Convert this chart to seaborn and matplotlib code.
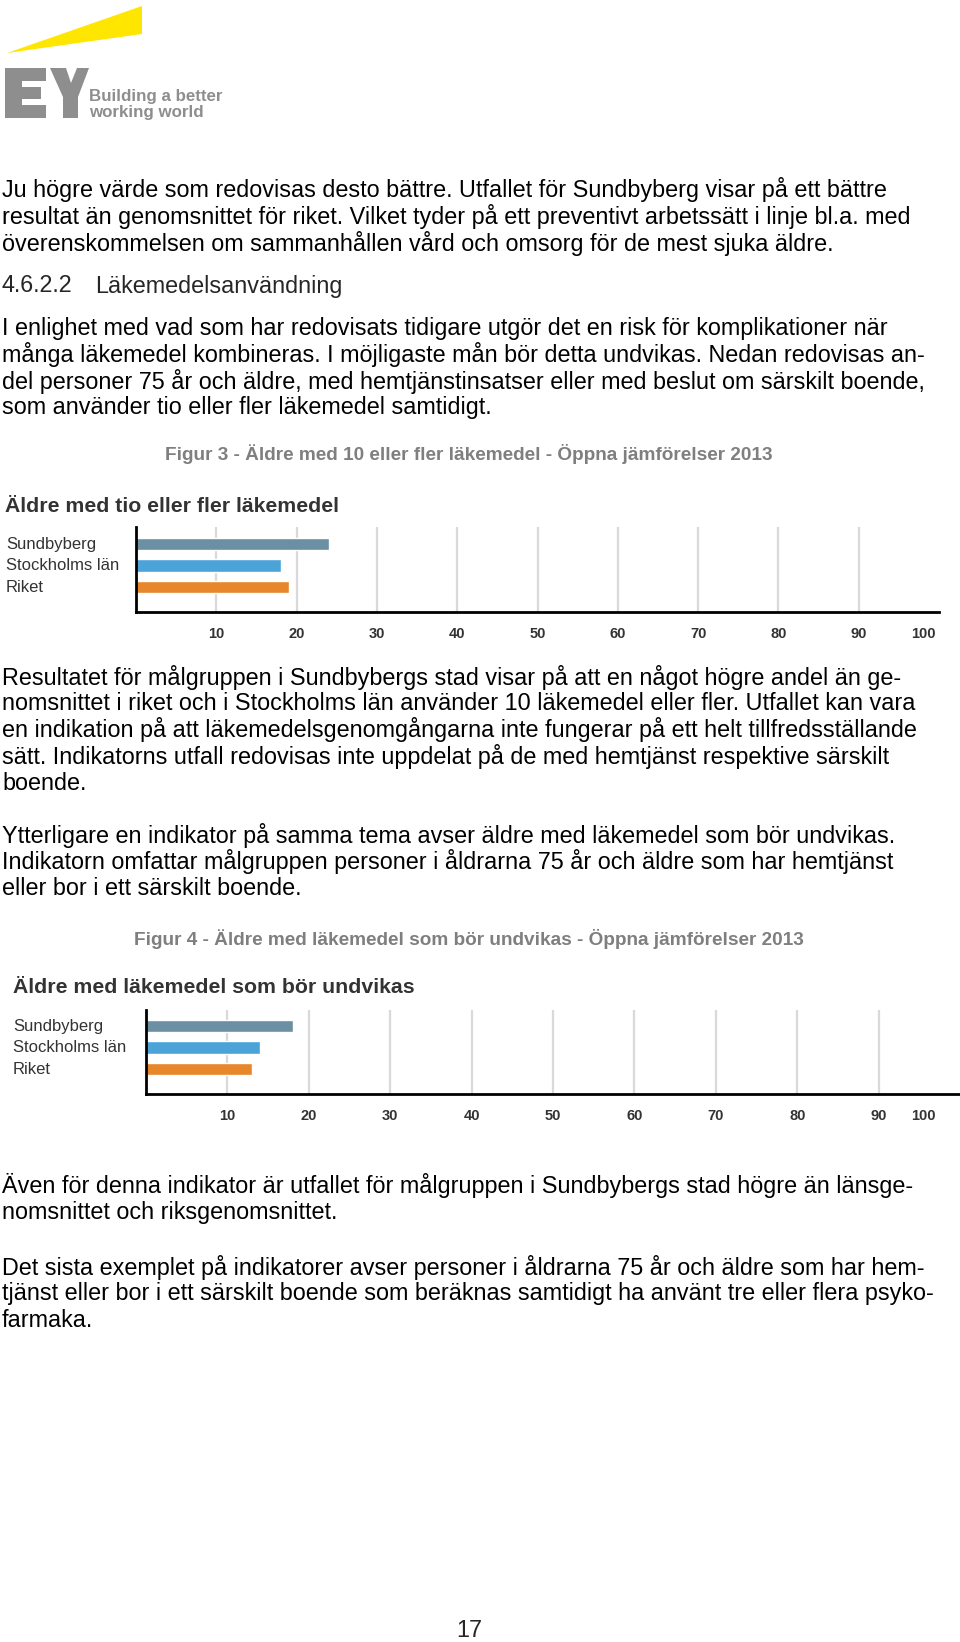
import matplotlib
matplotlib.use("Agg")
import matplotlib.pyplot as plt
import matplotlib.transforms as mtransforms
from matplotlib.patches import Polygon
import pandas as pd
import seaborn as sns

W, H = 960, 1642

REGIONS = ["Sundbyberg", "Stockholms län", "Riket"]
TIO_FLER = [24, 18, 19]          # Äldre med tio eller fler läkemedel (%)
BOR_UNDVIKAS = [18, 14, 13]      # Äldre med läkemedel som bör undvikas (%)
BAR_COLORS = ["#6b8fa3", "#4ba3d8", "#e8862b"]
X_TICKS = [10, 20, 30, 40, 50, 60, 70, 80, 90, 100]

PARA_1 = ["Ju högre värde som redovisas desto bättre. Utfallet för Sundbyberg visar på ett bättre",
          "resultat än genomsnittet för riket. Vilket tyder på ett preventivt arbetssätt i linje bl.a. med",
          "överenskommelsen om sammanhållen vård och omsorg för de mest sjuka äldre."]
PARA_2 = ["I enlighet med vad som har redovisats tidigare utgör det en risk för komplikationer när",
          "många läkemedel kombineras. I möjligaste mån bör detta undvikas. Nedan redovisas an-",
          "del personer 75 år och äldre, med hemtjänstinsatser eller med beslut om särskilt boende,",
          "som använder tio eller fler läkemedel samtidigt."]
PARA_3 = ["Resultatet för målgruppen i Sundbybergs stad visar på att en något högre andel än ge-",
          "nomsnittet i riket och i Stockholms län använder 10 läkemedel eller fler. Utfallet kan vara",
          "en indikation på att läkemedelsgenomgångarna inte fungerar på ett helt tillfredsställande",
          "sätt. Indikatorns utfall redovisas inte uppdelat på de med hemtjänst respektive särskilt",
          "boende."]
PARA_4 = ["Ytterligare en indikator på samma tema avser äldre med läkemedel som bör undvikas.",
          "Indikatorn omfattar målgruppen personer i åldrarna 75 år och äldre som har hemtjänst",
          "eller bor i ett särskilt boende."]
PARA_5 = ["Även för denna indikator är utfallet för målgruppen i Sundbybergs stad högre än länsge-",
          "nomsnittet och riksgenomsnittet."]
PARA_6 = ["Det sista exemplet på indikatorer avser personer i åldrarna 75 år och äldre som har hem-",
          "tjänst eller bor i ett särskilt boende som beräknas samtidigt ha använt tre eller flera psyko-",
          "farmaka."]

BODY = ["Liberation Sans", "DejaVu Sans"]
BODY_SIZE = 16.8
LOGO_GRAY = "#8e8e8e"

sns.set_theme(style="white")
plt.rcParams["font.family"] = BODY

fig = plt.figure(figsize=(W / 100, H / 100), dpi=100)
fig.patch.set_facecolor("white")


def fx(x):
    return x / W


def fy(y):
    return 1 - y / H


def shape(points, color):
    fig.patches.append(Polygon([(fx(x), fy(y)) for x, y in points], closed=True,
                               transform=fig.transFigure, facecolor=color,
                               edgecolor="none"))


def para(lines, y0, step=26.5):
    for i, s in enumerate(lines):
        fig.text(fx(2), fy(y0 + i * step), s, fontsize=BODY_SIZE, color="black",
                 va="center", ha="left")


# logo
shape([(7, 53), (142, 6), (142, 34)], "#ffe600")
shape([(5, 68), (46, 68), (46, 81), (22, 81), (22, 87), (41, 87), (41, 99),
       (22, 99), (22, 105), (46, 105), (46, 118), (5, 118)], LOGO_GRAY)
shape([(50, 68), (66, 68), (71, 83), (77, 68), (89, 68), (78, 97), (78, 118),
       (63, 118), (63, 97)], LOGO_GRAY)
fig.text(fx(89), fy(96), "Building a better", fontsize=12.2, fontweight="bold",
         color=LOGO_GRAY, va="center", ha="left")
fig.text(fx(89), fy(113), "working world", fontsize=12.2, fontweight="bold",
         color=LOGO_GRAY, va="center", ha="left")

para(PARA_1, 190)
fig.text(fx(2), fy(286), "4.6.2.2", fontsize=BODY_SIZE, va="center", ha="left")
fig.text(fx(95), fy(286), "Läkemedelsanvändning", fontsize=BODY_SIZE, va="center", ha="left")
para(PARA_2, 328)
para(PARA_3, 677)
para(PARA_4, 835)
para(PARA_5, 1186)
para(PARA_6, 1267)

fig.text(fx(469), fy(454), "Figur 3 - Äldre med 10 eller fler läkemedel - Öppna jämförelser 2013",
         fontsize=13.7, fontweight="bold", color="#7f7f7f", va="center", ha="center")
fig.text(fx(469), fy(939), "Figur 4 - Äldre med läkemedel som bör undvikas - Öppna jämförelser 2013",
         fontsize=13.7, fontweight="bold", color="#7f7f7f", va="center", ha="center")
fig.text(fx(469), fy(1630), "17", fontsize=BODY_SIZE, va="center", ha="center")


def bar_chart(values, title, title_x, title_y, left, right, top, bottom, first_bar, label_x):
    ax = fig.add_axes([fx(left), fy(bottom), (right - left) / W, (bottom - top) / H])
    df = pd.DataFrame({"region": REGIONS, "value": values})
    sns.barplot(data=df, x="value", y="region", hue="region", palette=BAR_COLORS,
                legend=False, width=0.56, saturation=1, ax=ax)
    step = 21.5
    ax.set_ylim(2 + (bottom - first_bar - 2 * step) / step, -(first_bar - top) / step)
    ax.set_xlim(0, 100)
    ax.set_xticks(X_TICKS)
    ax.set_xticklabels([str(t) for t in X_TICKS], fontsize=10.5, fontweight="bold",
                       color="#333333")
    ax.tick_params(axis="x", length=0, pad=11)
    # the last label is pulled in so it ends near the axis end, as in the source
    last = ax.get_xticklabels()[-1]
    last.set_ha("right")
    shift = (right - 936) / 100
    last.set_transform(last.get_transform() +
                       mtransforms.ScaledTranslation(-shift, 0, fig.dpi_scale_trans))
    ax.set_yticks([])
    ax.set_xlabel("")
    ax.set_ylabel("")
    ax.grid(axis="x", color="#d9d9d9", linewidth=1.6)
    ax.set_axisbelow(True)
    ax.get_xgridlines()[-1].set_visible(False)
    for side in ["top", "right"]:
        ax.spines[side].set_visible(False)
    for side in ["left", "bottom"]:
        ax.spines[side].set_color("black")
        ax.spines[side].set_linewidth(2)
    ax.set_facecolor("white")
    label_trans = mtransforms.blended_transform_factory(fig.transFigure, ax.transData)
    for i, name in enumerate(REGIONS):
        ax.text(fx(label_x), i, name, transform=label_trans, fontsize=12,
                color="#333333", va="center", ha="left")
    fig.text(fx(title_x), fy(title_y), title, fontsize=15.3, fontweight="bold",
             color="#333333", va="center", ha="left")
    return ax


bar_chart(TIO_FLER, "Äldre med tio eller fler läkemedel", 5, 506,
          136, 939, 527, 612, 544, 6)
bar_chart(BOR_UNDVIKAS, "Äldre med läkemedel som bör undvikas", 13, 987,
          146, 960, 1010, 1094, 1026, 13)

fig.savefig("out.png", dpi=100, facecolor="white")
